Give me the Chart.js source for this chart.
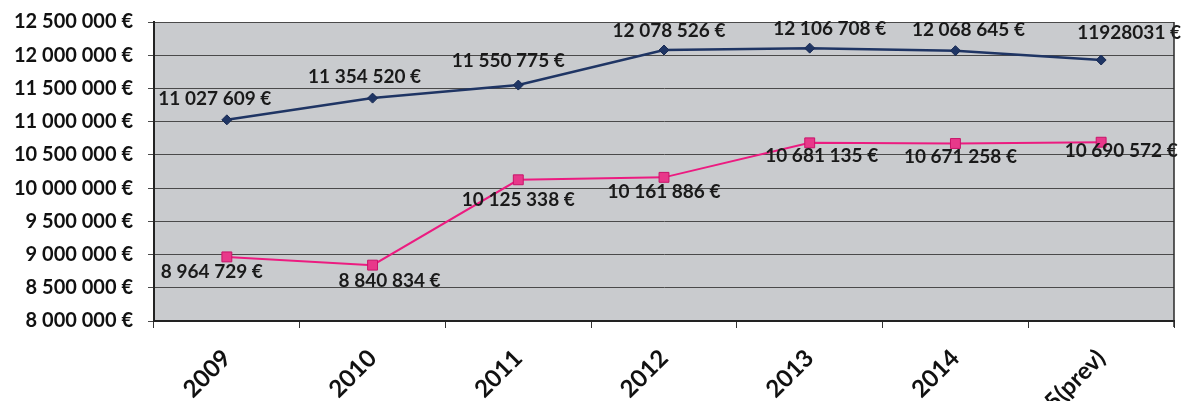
<!DOCTYPE html>
<html>
<head>
<meta charset="utf-8">
<script src="https://cdn.jsdelivr.net/npm/chart.js@4/dist/chart.umd.min.js"></script>
<style>
  html, body { margin: 0; padding: 0; background: #ffffff; }
  #wrap { width: 1185px; height: 401px; position: relative; }
</style>
</head>
<body>
<div id="wrap"><canvas id="c" width="1185" height="401"></canvas></div>
<script>
// ---- data ----
const categories = ['2009', '2010', '2011', '2012', '2013', '2014', '2015(prev)'];
const seriesTop = [11027609, 11354520, 11550775, 12078526, 12106708, 12068645, 11928031];
const seriesBottom = [8964729, 8840834, 10125338, 10161886, 10681135, 10671258, 10690572];
const yMin = 8000000;
const yMax = 12500000;
const yStep = 500000;
// label text of this index in the top series is written without thousand separators
const topPlainLabelIndex = 6;

// ---- label placement (offsets from each point, in px) ----
const topLabelDx = [-12, -8, -10, 5, 20, 13, 28];
const topLabelDy = [-21, -21, -24, -19, -19, -21, -27];
const bottomLabelDx = [-15, 17, 0, 0, 12, 5, 20];
const bottomLabelDy = [15, 16, 20, 15, 13, 13, 9];

function groupFmt(v) {
  return Math.round(v).toString().replace(/\B(?=(\d{3})+(?!\d))/g, ' ') + ' €';
}
function plainFmt(v) {
  return Math.round(v).toString() + ' €';
}

const FONT = 'Lato, "Open Sans", "DejaVu Sans", sans-serif';

const plotBg = {
  id: 'plotBg',
  beforeDraw(chart) {
    const { ctx, chartArea: a } = chart;
    ctx.save();
    ctx.fillStyle = '#c9cbce';
    ctx.fillRect(a.left, a.top, a.right - a.left, a.bottom - a.top);
    ctx.restore();
  },
  afterDraw(chart) {
    const { ctx, chartArea: a } = chart;
    ctx.save();
    ctx.strokeStyle = '#2a2a2a';
    ctx.lineWidth = 1.5;
    ctx.beginPath();
    ctx.moveTo(a.right, a.top);
    ctx.lineTo(a.right, a.bottom + 6);
    ctx.stroke();
    ctx.restore();
  }
};

const pointLabels = {
  id: 'pointLabels',
  afterDatasetsDraw(chart) {
    const { ctx } = chart;
    ctx.save();
    ctx.font = 'bold 19px ' + FONT;
    ctx.fillStyle = '#1a1a1a';
    ctx.textAlign = 'center';
    ctx.textBaseline = 'middle';
    chart.data.datasets.forEach((ds, di) => {
      const meta = chart.getDatasetMeta(di);
      meta.data.forEach((pt, i) => {
        const v = ds.data[i];
        let txt, dx, dy;
        if (di === 0) {
          txt = (i === topPlainLabelIndex) ? plainFmt(v) : groupFmt(v);
          dx = topLabelDx[i]; dy = topLabelDy[i];
        } else {
          txt = groupFmt(v);
          dx = bottomLabelDx[i]; dy = bottomLabelDy[i];
        }
        ctx.fillText(txt, pt.x + dx, pt.y + dy);
      });
    });
    ctx.restore();
  }
};

new Chart(document.getElementById('c'), {
  type: 'line',
  data: {
    labels: categories,
    datasets: [
      {
        data: seriesTop,
        borderColor: '#1f3564',
        backgroundColor: '#1f3564',
        borderWidth: 2.5,
        pointStyle: 'rectRot',
        pointRadius: 5,
        pointBorderWidth: 1,
        pointBackgroundColor: '#1f3564',
        pointBorderColor: '#1a2c55',
        tension: 0
      },
      {
        data: seriesBottom,
        borderColor: '#ec1b80',
        backgroundColor: '#e8388a',
        borderWidth: 2,
        pointStyle: 'rect',
        pointRadius: 7,
        pointBorderWidth: 1,
        pointBackgroundColor: '#e8388a',
        pointBorderColor: '#c8146a',
        tension: 0
      }
    ]
  },
  options: {
    responsive: false,
    animation: false,
    devicePixelRatio: 1,
    layout: { padding: { top: 22, right: 11, left: 0, bottom: 0 } },
    plugins: {
      legend: { display: false },
      tooltip: { enabled: false },
      title: { display: false }
    },
    scales: {
      x: {
        type: 'category',
        offset: true,
        grid: {
          offset: true,
          drawOnChartArea: false,
          drawTicks: true,
          tickLength: 7,
          color: '#333333',
          lineWidth: 1
        },
        border: { display: true, color: '#222222', width: 2 },
        ticks: {
          font: { family: FONT, size: 24, weight: 'bold' },
          color: '#111111',
          maxRotation: 45,
          minRotation: 45,
          padding: 16,
          autoSkip: false
        },
        afterFit(scale) { scale.height = 80; }
      },
      y: {
        min: yMin,
        max: yMax,
        grid: {
          color: '#4a4a4a',
          lineWidth: 1,
          drawTicks: true,
          tickLength: 6
        },
        border: { display: true, color: '#222222', width: 2 },
        ticks: {
          stepSize: yStep,
          font: { family: FONT, size: 20, weight: 'bold', lineHeight: 0.6 },
          color: '#111111',
          padding: 15,
          callback: (v) => groupFmt(v)
        },
        afterFit(scale) { scale.width = 154; }
      }
    }
  },
  plugins: [plotBg, pointLabels]
});
</script>
</body>
</html>
